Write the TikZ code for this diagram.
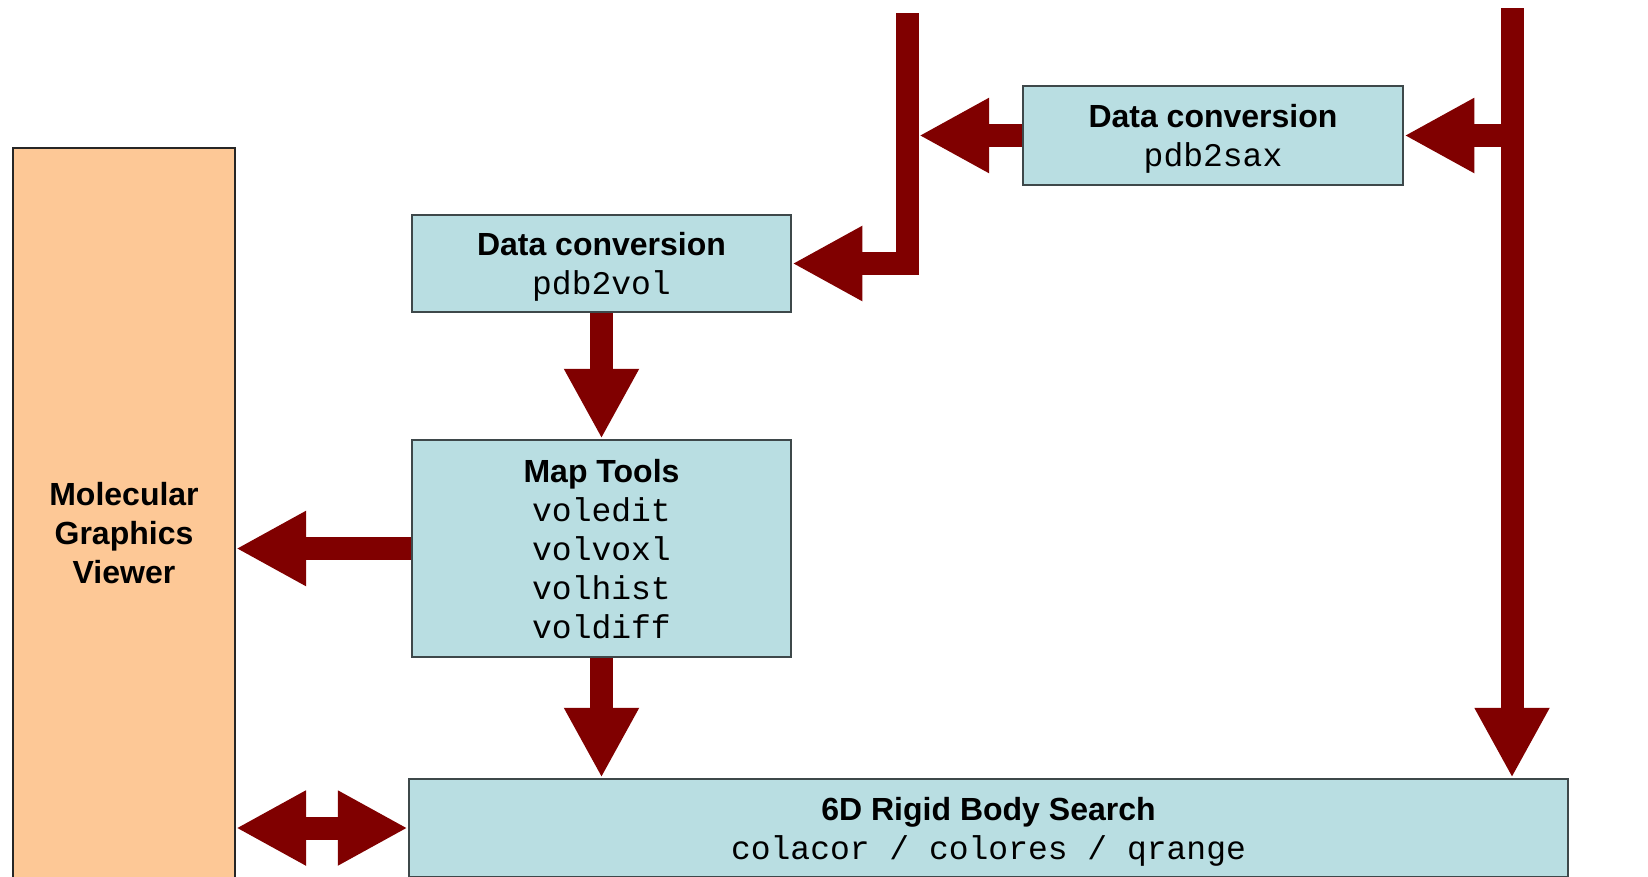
\documentclass[tikz,border=0pt]{standalone}
\usepackage{fontspec}
\setmainfont{Liberation Sans}
\newfontfamily\codefont{Liberation Mono}
\usetikzlibrary{arrows.meta}

\definecolor{boxblue}{RGB}{185,222,226}
\definecolor{viewerorange}{RGB}{253,200,150}
\definecolor{flowred}{RGB}{128,0,0}
\definecolor{boxedge}{RGB}{62,72,74}

\newcommand\code[1]{{\codefont\mdseries\fontsize{33}{39}\selectfont #1}}

\tikzset{
  stage/.style={draw=boxedge, line width=2.5pt, fill=boxblue, inner sep=0pt,
    align=center, text depth=0pt, font=\fontsize{32}{39}\selectfont\bfseries},
  viewerbox/.style={stage, draw=black!85, line width=2pt, fill=viewerorange},
  bigtip/.tip={Triangle[length=70pt,width=70pt]},
  flow/.style={draw=flowred, line width=23pt, line join=miter, -bigtip},
  flowboth/.style={draw=flowred, line width=23pt, bigtip-bigtip},
}

\begin{document}
\begin{tikzpicture}[x=1pt,y=-1pt]
  \useasboundingbox (0,0) rectangle (1648,876);
  \clip (0,0) rectangle (1648,876);

  % processing stages
  \node[viewerbox, minimum width=222pt, minimum height=770pt] (viewer) at (124,533)
    {Molecular\\Graphics\\Viewer};
  \node[stage, minimum width=380pt, minimum height=99pt] (sax) at (1213,135.5)
    {Data conversion\\\code{pdb2sax}};
  \node[stage, minimum width=379pt, minimum height=97pt] (vol) at (601.5,263.5)
    {Data conversion\\\code{pdb2vol}};
  \node[stage, minimum width=379pt, minimum height=217pt] (maptools) at (601.5,548.5)
    {Map Tools\\\code{voledit}\\\code{volvoxl}\\\code{volhist}\\\code{voldiff}};
  \node[stage, minimum width=1159pt, minimum height=98pt] (search) at (988.5,828)
    {6D Rigid Body Search\\\code{colacor / colores / qrange}};

  % incoming data streams
  \coordinate (feedA) at (907,13);
  \coordinate (feedB) at (1512,8);
  \coordinate (joinA) at (919,135.5);

  % data flow
  \draw[flow] (feedA) |- (vol.east);
  \draw[flow] (sax.west) -- (joinA);
  \draw[flow] (feedB) -- (feedB |- search.north);
  \draw[flow] (feedB |- sax.east) -- (sax.east);
  \draw[flow] (vol.south) -- (maptools.north);
  \draw[flow] (maptools.south) -- (maptools.south |- search.north);
  \draw[flow] (maptools.west) -- (maptools.west -| viewer.east);
  \draw[flowboth] (search.west -| viewer.east) -- (search.west);
\end{tikzpicture}
\end{document}
